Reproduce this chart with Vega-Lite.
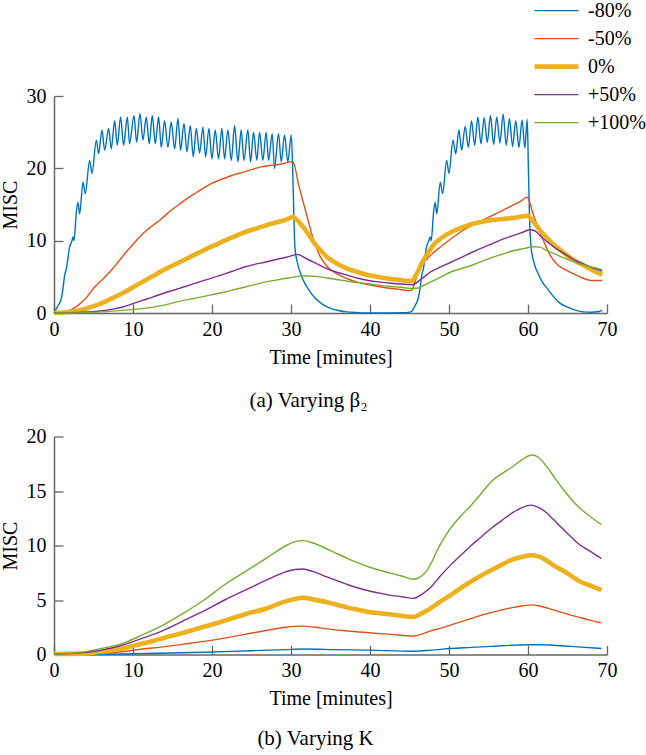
{
  "$schema": "https://vega.github.io/schema/vega-lite/v6.json",
  "background": "white",
  "padding": {"left": 0, "top": -3, "right": 0, "bottom": 0},
  "spacing": 15.5,
  "config": {
    "font": "Liberation Serif",
    "view": {"stroke": null},
    "axis": {
      "grid": false,
      "domainColor": "#666666",
      "domainWidth": 1.5,
      "tickColor": "#666666",
      "tickWidth": 1.3,
      "tickSize": -9,
      "labelFont": "Liberation Serif",
      "labelFontSize": 20,
      "labelColor": "#000000",
      "titleFont": "Liberation Serif",
      "titleFontSize": 20,
      "titleFontWeight": "normal",
      "titleColor": "#000000",
      "labelFlush": false,
      "labelOverlap": false
    },
    "axisX": {"labelPadding": 15, "titlePadding": 8},
    "axisY": {"labelPadding": 17, "titlePadding": 6},
    "title": {
      "font": "Liberation Serif",
      "fontSize": 21,
      "fontWeight": "normal",
      "color": "#000000",
      "orient": "bottom"
    }
  },
  "resolve": {
    "scale": {"color": "independent", "strokeWidth": "independent"},
    "legend": {"color": "independent", "strokeWidth": "independent"}
  },
  "datasets": {
    "a": [
      {"s": "-80%", "t": 0, "v": 0}, {"s": "-80%", "t": 0.5, "v": 1.0}, {"s": "-80%", "t": 0.93, "v": 2.0}, {"s": "-80%", "t": 1.15, "v": 3.5}, {"s": "-80%", "t": 1.35, "v": 5.2}, {"s": "-80%", "t": 1.56, "v": 6.1}, {"s": "-80%", "t": 1.98, "v": 9.1}, {"s": "-80%", "t": 2.28, "v": 10.0}, {"s": "-80%", "t": 2.4, "v": 10.5}, {"s": "-80%", "t": 2.53, "v": 10.0}, {"s": "-80%", "t": 2.83, "v": 14.0}, {"s": "-80%", "t": 3.04, "v": 15.3}, {"s": "-80%", "t": 3.25, "v": 13.7}, {"s": "-80%", "t": 3.67, "v": 18.1}, {"s": "-80%", "t": 3.96, "v": 16.5}, {"s": "-80%", "t": 4.51, "v": 21.1}, {"s": "-80%", "t": 4.81, "v": 19.3}, {"s": "-80%", "t": 5.36, "v": 23.9}, {"s": "-80%", "t": 5.65, "v": 22.0}, {"s": "-80%", "t": 6.07, "v": 25.3}, {"s": "-80%", "t": 6.41, "v": 22.5}, {"s": "-80%", "t": 6.92, "v": 25.5}, {"s": "-80%", "t": 7.25, "v": 22.7}, {"s": "-80%", "t": 7.68, "v": 26.6}, {"s": "-80%", "t": 8.01, "v": 23.2}, {"s": "-80%", "t": 8.43, "v": 27.1}, {"s": "-80%", "t": 8.81, "v": 23.2}, {"s": "-80%", "t": 9.28, "v": 27.1}, {"s": "-80%", "t": 9.57, "v": 23.4}, {"s": "-80%", "t": 10.12, "v": 27.3}, {"s": "-80%", "t": 10.46, "v": 23.6}, {"s": "-80%", "t": 10.88, "v": 27.6}, {"s": "-80%", "t": 11.26, "v": 23.9}, {"s": "-80%", "t": 11.68, "v": 27.1}, {"s": "-80%", "t": 12.06, "v": 23.4}, {"s": "-80%", "t": 12.44, "v": 27.3}, {"s": "-80%", "t": 12.82, "v": 23.4}, {"s": "-80%", "t": 13.24, "v": 27.1}, {"s": "-80%", "t": 13.58, "v": 22.9}, {"s": "-80%", "t": 14.0, "v": 26.6}, {"s": "-80%", "t": 14.42, "v": 22.9}, {"s": "-80%", "t": 14.84, "v": 26.4}, {"s": "-80%", "t": 15.27, "v": 22.7}, {"s": "-80%", "t": 15.69, "v": 26.9}, {"s": "-80%", "t": 16.03, "v": 22.5}, {"s": "-80%", "t": 16.45, "v": 26.2}, {"s": "-80%", "t": 16.83, "v": 22.3}, {"s": "-80%", "t": 17.25, "v": 25.9}, {"s": "-80%", "t": 17.63, "v": 21.6}, {"s": "-80%", "t": 18.01, "v": 25.5}, {"s": "-80%", "t": 18.43, "v": 22.1}, {"s": "-80%", "t": 18.85, "v": 25.7}, {"s": "-80%", "t": 19.19, "v": 21.6}, {"s": "-80%", "t": 19.61, "v": 25.5}, {"s": "-80%", "t": 19.99, "v": 21.3}, {"s": "-80%", "t": 20.41, "v": 25.3}, {"s": "-80%", "t": 20.83, "v": 21.3}, {"s": "-80%", "t": 21.25, "v": 25.5}, {"s": "-80%", "t": 21.59, "v": 21.3}, {"s": "-80%", "t": 22.01, "v": 25.3}, {"s": "-80%", "t": 22.44, "v": 21.1}, {"s": "-80%", "t": 22.86, "v": 25.9}, {"s": "-80%", "t": 23.28, "v": 20.9}, {"s": "-80%", "t": 23.7, "v": 25.3}, {"s": "-80%", "t": 24.04, "v": 21.1}, {"s": "-80%", "t": 24.54, "v": 25.3}, {"s": "-80%", "t": 24.88, "v": 20.9}, {"s": "-80%", "t": 25.26, "v": 25.0}, {"s": "-80%", "t": 25.68, "v": 21.1}, {"s": "-80%", "t": 26.02, "v": 25.0}, {"s": "-80%", "t": 26.44, "v": 21.1}, {"s": "-80%", "t": 26.86, "v": 25.0}, {"s": "-80%", "t": 27.16, "v": 21.1}, {"s": "-80%", "t": 27.62, "v": 24.8}, {"s": "-80%", "t": 27.92, "v": 20.0}, {"s": "-80%", "t": 28.42, "v": 24.8}, {"s": "-80%", "t": 28.76, "v": 20.9}, {"s": "-80%", "t": 29.18, "v": 24.6}, {"s": "-80%", "t": 29.6, "v": 20.9}, {"s": "-80%", "t": 30.03, "v": 24.6}, {"s": "-80%", "t": 30.2, "v": 20.5}, {"s": "-80%", "t": 30.35, "v": 14.0}, {"s": "-80%", "t": 30.5, "v": 9.0}, {"s": "-80%", "t": 30.8, "v": 7.0}, {"s": "-80%", "t": 31.2, "v": 5.5}, {"s": "-80%", "t": 31.7, "v": 4.2}, {"s": "-80%", "t": 32.2, "v": 3.3}, {"s": "-80%", "t": 33.0, "v": 2.1}, {"s": "-80%", "t": 34.0, "v": 1.2}, {"s": "-80%", "t": 35.0, "v": 0.65}, {"s": "-80%", "t": 36.0, "v": 0.35}, {"s": "-80%", "t": 37.0, "v": 0.15}, {"s": "-80%", "t": 38.5, "v": 0.05}, {"s": "-80%", "t": 40.0, "v": 0.0}, {"s": "-80%", "t": 44.5, "v": 0.05}, {"s": "-80%", "t": 45.2, "v": 0.15}, {"s": "-80%", "t": 45.5, "v": 0.6}, {"s": "-80%", "t": 45.8, "v": 1.2}, {"s": "-80%", "t": 46.1, "v": 2.0}, {"s": "-80%", "t": 46.35, "v": 3.5}, {"s": "-80%", "t": 46.55, "v": 5.2}, {"s": "-80%", "t": 46.75, "v": 6.1}, {"s": "-80%", "t": 47.15, "v": 9.1}, {"s": "-80%", "t": 47.45, "v": 10.0}, {"s": "-80%", "t": 47.6, "v": 10.5}, {"s": "-80%", "t": 47.75, "v": 10.0}, {"s": "-80%", "t": 48.05, "v": 14.0}, {"s": "-80%", "t": 48.25, "v": 15.3}, {"s": "-80%", "t": 48.45, "v": 13.7}, {"s": "-80%", "t": 48.9, "v": 18.1}, {"s": "-80%", "t": 49.2, "v": 16.5}, {"s": "-80%", "t": 49.7, "v": 21.1}, {"s": "-80%", "t": 50.0, "v": 19.3}, {"s": "-80%", "t": 50.5, "v": 23.9}, {"s": "-80%", "t": 50.85, "v": 22.0}, {"s": "-80%", "t": 51.25, "v": 25.3}, {"s": "-80%", "t": 51.6, "v": 22.5}, {"s": "-80%", "t": 52.05, "v": 25.8}, {"s": "-80%", "t": 52.45, "v": 22.9}, {"s": "-80%", "t": 52.85, "v": 26.6}, {"s": "-80%", "t": 53.25, "v": 23.2}, {"s": "-80%", "t": 53.65, "v": 27.1}, {"s": "-80%", "t": 54.05, "v": 23.4}, {"s": "-80%", "t": 54.45, "v": 27.0}, {"s": "-80%", "t": 54.85, "v": 23.6}, {"s": "-80%", "t": 55.25, "v": 27.3}, {"s": "-80%", "t": 55.65, "v": 23.3}, {"s": "-80%", "t": 56.05, "v": 27.1}, {"s": "-80%", "t": 56.45, "v": 23.5}, {"s": "-80%", "t": 56.85, "v": 27.5}, {"s": "-80%", "t": 57.25, "v": 23.2}, {"s": "-80%", "t": 57.65, "v": 26.9}, {"s": "-80%", "t": 58.05, "v": 23.0}, {"s": "-80%", "t": 58.45, "v": 26.6}, {"s": "-80%", "t": 58.85, "v": 22.9}, {"s": "-80%", "t": 59.25, "v": 26.7}, {"s": "-80%", "t": 59.6, "v": 22.8}, {"s": "-80%", "t": 59.9, "v": 26.8}, {"s": "-80%", "t": 60.05, "v": 20.0}, {"s": "-80%", "t": 60.2, "v": 13.0}, {"s": "-80%", "t": 60.4, "v": 9.0}, {"s": "-80%", "t": 60.8, "v": 6.8}, {"s": "-80%", "t": 61.3, "v": 5.4}, {"s": "-80%", "t": 61.8, "v": 4.3}, {"s": "-80%", "t": 62.5, "v": 3.3}, {"s": "-80%", "t": 63.2, "v": 2.3}, {"s": "-80%", "t": 64.0, "v": 1.4}, {"s": "-80%", "t": 65.0, "v": 0.8}, {"s": "-80%", "t": 66.0, "v": 0.4}, {"s": "-80%", "t": 67.0, "v": 0.15}, {"s": "-80%", "t": 68.0, "v": 0.1}, {"s": "-80%", "t": 69.0, "v": 0.2}, {"s": "-80%", "t": 69.4, "v": 0.35},

      {"s": "-50%", "t": 0, "v": 0}, {"s": "-50%", "t": 1.35, "v": 0.15}, {"s": "-50%", "t": 3.04, "v": 1.06}, {"s": "-50%", "t": 4.0, "v": 2.0}, {"s": "-50%", "t": 5.15, "v": 3.6}, {"s": "-50%", "t": 6.2, "v": 4.7}, {"s": "-50%", "t": 7.25, "v": 5.9}, {"s": "-50%", "t": 8.3, "v": 7.3}, {"s": "-50%", "t": 9.36, "v": 8.7}, {"s": "-50%", "t": 10.4, "v": 10.0}, {"s": "-50%", "t": 11.47, "v": 11.2}, {"s": "-50%", "t": 12.5, "v": 12.1}, {"s": "-50%", "t": 13.58, "v": 13.0}, {"s": "-50%", "t": 14.6, "v": 14.0}, {"s": "-50%", "t": 15.69, "v": 14.9}, {"s": "-50%", "t": 16.7, "v": 15.7}, {"s": "-50%", "t": 17.8, "v": 16.5}, {"s": "-50%", "t": 18.8, "v": 17.2}, {"s": "-50%", "t": 19.9, "v": 17.9}, {"s": "-50%", "t": 21.0, "v": 18.4}, {"s": "-50%", "t": 22.0, "v": 18.8}, {"s": "-50%", "t": 23.0, "v": 19.2}, {"s": "-50%", "t": 24.1, "v": 19.5}, {"s": "-50%", "t": 25.2, "v": 19.9}, {"s": "-50%", "t": 26.2, "v": 20.2}, {"s": "-50%", "t": 27.3, "v": 20.4}, {"s": "-50%", "t": 28.3, "v": 20.5}, {"s": "-50%", "t": 29.2, "v": 20.7}, {"s": "-50%", "t": 30.1, "v": 20.9}, {"s": "-50%", "t": 30.3, "v": 20.8}, {"s": "-50%", "t": 31.0, "v": 17.6}, {"s": "-50%", "t": 32.0, "v": 13.5}, {"s": "-50%", "t": 32.8, "v": 10.3}, {"s": "-50%", "t": 33.6, "v": 8.0}, {"s": "-50%", "t": 34.6, "v": 6.4}, {"s": "-50%", "t": 35.5, "v": 5.6}, {"s": "-50%", "t": 36.2, "v": 5.2}, {"s": "-50%", "t": 37.2, "v": 4.7}, {"s": "-50%", "t": 38.3, "v": 4.3}, {"s": "-50%", "t": 39.5, "v": 3.95}, {"s": "-50%", "t": 40.4, "v": 3.8}, {"s": "-50%", "t": 42.0, "v": 3.5}, {"s": "-50%", "t": 43.5, "v": 3.3}, {"s": "-50%", "t": 45.1, "v": 3.1}, {"s": "-50%", "t": 45.3, "v": 3.2}, {"s": "-50%", "t": 46.1, "v": 5.7}, {"s": "-50%", "t": 47.7, "v": 8.0}, {"s": "-50%", "t": 49.0, "v": 9.2}, {"s": "-50%", "t": 50.3, "v": 10.3}, {"s": "-50%", "t": 51.6, "v": 11.3}, {"s": "-50%", "t": 52.9, "v": 12.1}, {"s": "-50%", "t": 54.2, "v": 12.8}, {"s": "-50%", "t": 55.5, "v": 13.5}, {"s": "-50%", "t": 56.8, "v": 14.2}, {"s": "-50%", "t": 58.1, "v": 14.9}, {"s": "-50%", "t": 59.0, "v": 15.4}, {"s": "-50%", "t": 59.9, "v": 16.0}, {"s": "-50%", "t": 60.7, "v": 13.5}, {"s": "-50%", "t": 61.7, "v": 10.7}, {"s": "-50%", "t": 62.8, "v": 8.0}, {"s": "-50%", "t": 63.8, "v": 6.6}, {"s": "-50%", "t": 64.9, "v": 5.9}, {"s": "-50%", "t": 66.0, "v": 5.3}, {"s": "-50%", "t": 67.0, "v": 4.8}, {"s": "-50%", "t": 68.0, "v": 4.5}, {"s": "-50%", "t": 69.4, "v": 4.5},

      {"s": "0%", "t": 0, "v": 0}, {"s": "0%", "t": 2.0, "v": 0.15}, {"s": "0%", "t": 3.3, "v": 0.37}, {"s": "0%", "t": 4.6, "v": 0.8}, {"s": "0%", "t": 5.9, "v": 1.3}, {"s": "0%", "t": 7.2, "v": 1.95}, {"s": "0%", "t": 8.6, "v": 2.7}, {"s": "0%", "t": 9.9, "v": 3.5}, {"s": "0%", "t": 11.2, "v": 4.3}, {"s": "0%", "t": 12.5, "v": 5.1}, {"s": "0%", "t": 13.8, "v": 5.9}, {"s": "0%", "t": 15.1, "v": 6.6}, {"s": "0%", "t": 16.4, "v": 7.3}, {"s": "0%", "t": 17.7, "v": 8.0}, {"s": "0%", "t": 19.0, "v": 8.7}, {"s": "0%", "t": 20.3, "v": 9.35}, {"s": "0%", "t": 21.6, "v": 10.0}, {"s": "0%", "t": 22.9, "v": 10.6}, {"s": "0%", "t": 24.2, "v": 11.2}, {"s": "0%", "t": 25.5, "v": 11.65}, {"s": "0%", "t": 26.8, "v": 12.1}, {"s": "0%", "t": 28.1, "v": 12.5}, {"s": "0%", "t": 29.4, "v": 12.9}, {"s": "0%", "t": 30.2, "v": 13.25}, {"s": "0%", "t": 31.0, "v": 12.6}, {"s": "0%", "t": 32.0, "v": 11.2}, {"s": "0%", "t": 33.0, "v": 9.6}, {"s": "0%", "t": 33.8, "v": 8.6}, {"s": "0%", "t": 34.6, "v": 7.7}, {"s": "0%", "t": 35.4, "v": 7.1}, {"s": "0%", "t": 36.2, "v": 6.6}, {"s": "0%", "t": 37.2, "v": 6.1}, {"s": "0%", "t": 38.3, "v": 5.7}, {"s": "0%", "t": 39.6, "v": 5.3}, {"s": "0%", "t": 40.9, "v": 5.0}, {"s": "0%", "t": 42.0, "v": 4.8}, {"s": "0%", "t": 43.0, "v": 4.65}, {"s": "0%", "t": 44.2, "v": 4.5}, {"s": "0%", "t": 45.2, "v": 4.4}, {"s": "0%", "t": 46.0, "v": 5.6}, {"s": "0%", "t": 46.6, "v": 7.0}, {"s": "0%", "t": 47.4, "v": 8.4}, {"s": "0%", "t": 48.2, "v": 9.6}, {"s": "0%", "t": 49.2, "v": 10.5}, {"s": "0%", "t": 50.3, "v": 11.2}, {"s": "0%", "t": 51.6, "v": 11.8}, {"s": "0%", "t": 52.9, "v": 12.3}, {"s": "0%", "t": 54.2, "v": 12.6}, {"s": "0%", "t": 55.5, "v": 12.85}, {"s": "0%", "t": 56.8, "v": 13.0}, {"s": "0%", "t": 58.1, "v": 13.15}, {"s": "0%", "t": 59.0, "v": 13.3}, {"s": "0%", "t": 59.9, "v": 13.45}, {"s": "0%", "t": 60.7, "v": 12.6}, {"s": "0%", "t": 61.7, "v": 11.2}, {"s": "0%", "t": 62.5, "v": 10.3}, {"s": "0%", "t": 63.3, "v": 9.4}, {"s": "0%", "t": 64.1, "v": 8.7}, {"s": "0%", "t": 64.9, "v": 8.0}, {"s": "0%", "t": 66.0, "v": 7.2}, {"s": "0%", "t": 67.0, "v": 6.6}, {"s": "0%", "t": 68.2, "v": 5.9}, {"s": "0%", "t": 69.4, "v": 5.3},

      {"s": "+50%", "t": 0, "v": 0}, {"s": "+50%", "t": 3.0, "v": 0.08}, {"s": "+50%", "t": 5.9, "v": 0.28}, {"s": "+50%", "t": 7.2, "v": 0.5}, {"s": "+50%", "t": 8.6, "v": 0.8}, {"s": "+50%", "t": 9.9, "v": 1.25}, {"s": "+50%", "t": 11.2, "v": 1.75}, {"s": "+50%", "t": 12.5, "v": 2.2}, {"s": "+50%", "t": 13.8, "v": 2.7}, {"s": "+50%", "t": 15.1, "v": 3.15}, {"s": "+50%", "t": 16.4, "v": 3.6}, {"s": "+50%", "t": 17.7, "v": 4.05}, {"s": "+50%", "t": 19.0, "v": 4.5}, {"s": "+50%", "t": 20.3, "v": 4.95}, {"s": "+50%", "t": 21.6, "v": 5.4}, {"s": "+50%", "t": 22.9, "v": 5.9}, {"s": "+50%", "t": 24.2, "v": 6.4}, {"s": "+50%", "t": 25.5, "v": 6.75}, {"s": "+50%", "t": 26.8, "v": 7.05}, {"s": "+50%", "t": 28.1, "v": 7.4}, {"s": "+50%", "t": 29.4, "v": 7.7}, {"s": "+50%", "t": 30.8, "v": 8.1}, {"s": "+50%", "t": 32.0, "v": 7.5}, {"s": "+50%", "t": 33.3, "v": 6.8}, {"s": "+50%", "t": 34.6, "v": 6.1}, {"s": "+50%", "t": 35.9, "v": 5.6}, {"s": "+50%", "t": 37.2, "v": 5.2}, {"s": "+50%", "t": 38.5, "v": 4.8}, {"s": "+50%", "t": 39.8, "v": 4.5}, {"s": "+50%", "t": 41.1, "v": 4.3}, {"s": "+50%", "t": 42.4, "v": 4.15}, {"s": "+50%", "t": 43.9, "v": 4.0}, {"s": "+50%", "t": 45.3, "v": 3.9}, {"s": "+50%", "t": 46.5, "v": 4.7}, {"s": "+50%", "t": 47.7, "v": 5.7}, {"s": "+50%", "t": 49.0, "v": 6.4}, {"s": "+50%", "t": 50.3, "v": 7.05}, {"s": "+50%", "t": 51.6, "v": 7.7}, {"s": "+50%", "t": 52.9, "v": 8.4}, {"s": "+50%", "t": 54.2, "v": 9.0}, {"s": "+50%", "t": 55.5, "v": 9.6}, {"s": "+50%", "t": 56.8, "v": 10.2}, {"s": "+50%", "t": 58.1, "v": 10.7}, {"s": "+50%", "t": 59.2, "v": 11.1}, {"s": "+50%", "t": 60.2, "v": 11.5}, {"s": "+50%", "t": 60.8, "v": 11.4}, {"s": "+50%", "t": 61.7, "v": 10.5}, {"s": "+50%", "t": 62.5, "v": 9.8}, {"s": "+50%", "t": 63.3, "v": 9.1}, {"s": "+50%", "t": 64.6, "v": 8.2}, {"s": "+50%", "t": 65.9, "v": 7.3}, {"s": "+50%", "t": 67.2, "v": 6.7}, {"s": "+50%", "t": 68.3, "v": 6.2}, {"s": "+50%", "t": 69.4, "v": 5.8},

      {"s": "+100%", "t": 0, "v": 0}, {"s": "+100%", "t": 4.0, "v": 0.05}, {"s": "+100%", "t": 6.0, "v": 0.15}, {"s": "+100%", "t": 8.6, "v": 0.37}, {"s": "+100%", "t": 11.2, "v": 0.6}, {"s": "+100%", "t": 13.8, "v": 1.06}, {"s": "+100%", "t": 15.1, "v": 1.4}, {"s": "+100%", "t": 16.4, "v": 1.75}, {"s": "+100%", "t": 17.7, "v": 2.0}, {"s": "+100%", "t": 19.0, "v": 2.3}, {"s": "+100%", "t": 20.3, "v": 2.6}, {"s": "+100%", "t": 21.6, "v": 2.9}, {"s": "+100%", "t": 22.9, "v": 3.25}, {"s": "+100%", "t": 24.2, "v": 3.6}, {"s": "+100%", "t": 25.5, "v": 3.95}, {"s": "+100%", "t": 26.8, "v": 4.3}, {"s": "+100%", "t": 28.1, "v": 4.55}, {"s": "+100%", "t": 29.4, "v": 4.8}, {"s": "+100%", "t": 30.5, "v": 5.0}, {"s": "+100%", "t": 31.5, "v": 5.15}, {"s": "+100%", "t": 32.5, "v": 5.1}, {"s": "+100%", "t": 33.6, "v": 5.0}, {"s": "+100%", "t": 35.4, "v": 4.7}, {"s": "+100%", "t": 37.2, "v": 4.4}, {"s": "+100%", "t": 38.5, "v": 4.2}, {"s": "+100%", "t": 39.8, "v": 4.05}, {"s": "+100%", "t": 41.1, "v": 3.85}, {"s": "+100%", "t": 42.4, "v": 3.7}, {"s": "+100%", "t": 43.9, "v": 3.55}, {"s": "+100%", "t": 45.3, "v": 3.4}, {"s": "+100%", "t": 46.1, "v": 3.45}, {"s": "+100%", "t": 46.9, "v": 3.9}, {"s": "+100%", "t": 47.7, "v": 4.3}, {"s": "+100%", "t": 49.0, "v": 5.0}, {"s": "+100%", "t": 50.3, "v": 5.7}, {"s": "+100%", "t": 51.6, "v": 6.15}, {"s": "+100%", "t": 52.9, "v": 6.6}, {"s": "+100%", "t": 54.2, "v": 7.15}, {"s": "+100%", "t": 55.5, "v": 7.7}, {"s": "+100%", "t": 56.8, "v": 8.15}, {"s": "+100%", "t": 58.1, "v": 8.6}, {"s": "+100%", "t": 59.4, "v": 8.9}, {"s": "+100%", "t": 60.7, "v": 9.15}, {"s": "+100%", "t": 61.5, "v": 9.1}, {"s": "+100%", "t": 62.4, "v": 8.6}, {"s": "+100%", "t": 63.3, "v": 8.2}, {"s": "+100%", "t": 64.6, "v": 7.6}, {"s": "+100%", "t": 65.9, "v": 7.05}, {"s": "+100%", "t": 67.2, "v": 6.6}, {"s": "+100%", "t": 68.3, "v": 6.3}, {"s": "+100%", "t": 69.4, "v": 6.0}
    ],
    "b": [
      {"s": "-80%", "t": 0, "v": 0.0}, {"s": "-80%", "t": 8.6, "v": 0.05}, {"s": "-80%", "t": 19.0, "v": 0.2}, {"s": "-80%", "t": 25.0, "v": 0.35}, {"s": "-80%", "t": 29.4, "v": 0.45}, {"s": "-80%", "t": 31.5, "v": 0.5}, {"s": "-80%", "t": 35.5, "v": 0.45}, {"s": "-80%", "t": 39.8, "v": 0.4}, {"s": "-80%", "t": 45.5, "v": 0.3}, {"s": "-80%", "t": 47.8, "v": 0.4}, {"s": "-80%", "t": 50.2, "v": 0.55}, {"s": "-80%", "t": 52.8, "v": 0.65}, {"s": "-80%", "t": 55.4, "v": 0.75}, {"s": "-80%", "t": 58.0, "v": 0.85}, {"s": "-80%", "t": 60.1, "v": 0.9}, {"s": "-80%", "t": 61.5, "v": 0.9}, {"s": "-80%", "t": 63.2, "v": 0.85}, {"s": "-80%", "t": 66.3, "v": 0.7}, {"s": "-80%", "t": 69.3, "v": 0.55},

      {"s": "-50%", "t": 0, "v": 0.03}, {"s": "-50%", "t": 5.0, "v": 0.08}, {"s": "-50%", "t": 8.6, "v": 0.25}, {"s": "-50%", "t": 11.2, "v": 0.5}, {"s": "-50%", "t": 13.8, "v": 0.7}, {"s": "-50%", "t": 16.4, "v": 0.95}, {"s": "-50%", "t": 19.0, "v": 1.2}, {"s": "-50%", "t": 21.6, "v": 1.5}, {"s": "-50%", "t": 24.2, "v": 1.85}, {"s": "-50%", "t": 26.8, "v": 2.2}, {"s": "-50%", "t": 29.4, "v": 2.5}, {"s": "-50%", "t": 31.5, "v": 2.6}, {"s": "-50%", "t": 33.0, "v": 2.5}, {"s": "-50%", "t": 34.6, "v": 2.35}, {"s": "-50%", "t": 37.2, "v": 2.15}, {"s": "-50%", "t": 39.8, "v": 2.0}, {"s": "-50%", "t": 42.6, "v": 1.85}, {"s": "-50%", "t": 45.5, "v": 1.7}, {"s": "-50%", "t": 46.5, "v": 1.85}, {"s": "-50%", "t": 47.6, "v": 2.15}, {"s": "-50%", "t": 48.9, "v": 2.4}, {"s": "-50%", "t": 50.2, "v": 2.7}, {"s": "-50%", "t": 51.5, "v": 3.0}, {"s": "-50%", "t": 52.8, "v": 3.3}, {"s": "-50%", "t": 54.1, "v": 3.6}, {"s": "-50%", "t": 55.4, "v": 3.85}, {"s": "-50%", "t": 56.7, "v": 4.1}, {"s": "-50%", "t": 58.0, "v": 4.3}, {"s": "-50%", "t": 59.2, "v": 4.45}, {"s": "-50%", "t": 60.4, "v": 4.55}, {"s": "-50%", "t": 61.5, "v": 4.45}, {"s": "-50%", "t": 63.2, "v": 4.1}, {"s": "-50%", "t": 64.8, "v": 3.75}, {"s": "-50%", "t": 66.3, "v": 3.45}, {"s": "-50%", "t": 67.8, "v": 3.15}, {"s": "-50%", "t": 69.3, "v": 2.9},

      {"s": "0%", "t": 0, "v": 0.05}, {"s": "0%", "t": 3.4, "v": 0.08}, {"s": "0%", "t": 6.0, "v": 0.25}, {"s": "0%", "t": 8.6, "v": 0.55}, {"s": "0%", "t": 11.2, "v": 1.0}, {"s": "0%", "t": 13.8, "v": 1.5}, {"s": "0%", "t": 16.4, "v": 2.0}, {"s": "0%", "t": 19.0, "v": 2.55}, {"s": "0%", "t": 21.6, "v": 3.1}, {"s": "0%", "t": 24.2, "v": 3.7}, {"s": "0%", "t": 26.8, "v": 4.2}, {"s": "0%", "t": 29.4, "v": 4.9}, {"s": "0%", "t": 30.5, "v": 5.1}, {"s": "0%", "t": 31.5, "v": 5.2}, {"s": "0%", "t": 32.8, "v": 5.05}, {"s": "0%", "t": 34.6, "v": 4.8}, {"s": "0%", "t": 35.9, "v": 4.55}, {"s": "0%", "t": 37.2, "v": 4.3}, {"s": "0%", "t": 38.5, "v": 4.1}, {"s": "0%", "t": 39.8, "v": 3.9}, {"s": "0%", "t": 41.1, "v": 3.8}, {"s": "0%", "t": 42.4, "v": 3.7}, {"s": "0%", "t": 44.0, "v": 3.55}, {"s": "0%", "t": 45.5, "v": 3.45}, {"s": "0%", "t": 46.5, "v": 3.75}, {"s": "0%", "t": 47.6, "v": 4.2}, {"s": "0%", "t": 48.9, "v": 4.85}, {"s": "0%", "t": 50.2, "v": 5.45}, {"s": "0%", "t": 51.5, "v": 6.1}, {"s": "0%", "t": 52.8, "v": 6.7}, {"s": "0%", "t": 54.1, "v": 7.25}, {"s": "0%", "t": 55.4, "v": 7.75}, {"s": "0%", "t": 56.7, "v": 8.25}, {"s": "0%", "t": 58.0, "v": 8.7}, {"s": "0%", "t": 59.2, "v": 8.95}, {"s": "0%", "t": 60.5, "v": 9.1}, {"s": "0%", "t": 61.3, "v": 9.0}, {"s": "0%", "t": 62.2, "v": 8.7}, {"s": "0%", "t": 63.2, "v": 8.2}, {"s": "0%", "t": 64.3, "v": 7.75}, {"s": "0%", "t": 65.3, "v": 7.3}, {"s": "0%", "t": 66.3, "v": 6.8}, {"s": "0%", "t": 67.8, "v": 6.35}, {"s": "0%", "t": 69.3, "v": 5.9},

      {"s": "+50%", "t": 0, "v": 0.05}, {"s": "+50%", "t": 3.4, "v": 0.15}, {"s": "+50%", "t": 6.0, "v": 0.4}, {"s": "+50%", "t": 8.6, "v": 0.85}, {"s": "+50%", "t": 11.2, "v": 1.5}, {"s": "+50%", "t": 13.8, "v": 2.2}, {"s": "+50%", "t": 16.4, "v": 3.1}, {"s": "+50%", "t": 19.0, "v": 4.0}, {"s": "+50%", "t": 21.6, "v": 5.0}, {"s": "+50%", "t": 24.2, "v": 5.9}, {"s": "+50%", "t": 26.8, "v": 6.8}, {"s": "+50%", "t": 29.4, "v": 7.6}, {"s": "+50%", "t": 30.5, "v": 7.8}, {"s": "+50%", "t": 31.5, "v": 7.85}, {"s": "+50%", "t": 32.8, "v": 7.6}, {"s": "+50%", "t": 34.6, "v": 7.1}, {"s": "+50%", "t": 35.9, "v": 6.75}, {"s": "+50%", "t": 37.2, "v": 6.4}, {"s": "+50%", "t": 38.5, "v": 6.1}, {"s": "+50%", "t": 39.8, "v": 5.85}, {"s": "+50%", "t": 41.1, "v": 5.65}, {"s": "+50%", "t": 42.4, "v": 5.45}, {"s": "+50%", "t": 44.0, "v": 5.3}, {"s": "+50%", "t": 45.5, "v": 5.15}, {"s": "+50%", "t": 46.5, "v": 5.5}, {"s": "+50%", "t": 47.6, "v": 6.1}, {"s": "+50%", "t": 48.9, "v": 7.2}, {"s": "+50%", "t": 50.2, "v": 8.2}, {"s": "+50%", "t": 51.5, "v": 9.1}, {"s": "+50%", "t": 52.8, "v": 10.0}, {"s": "+50%", "t": 54.1, "v": 10.8}, {"s": "+50%", "t": 55.4, "v": 11.6}, {"s": "+50%", "t": 56.7, "v": 12.3}, {"s": "+50%", "t": 58.0, "v": 13.0}, {"s": "+50%", "t": 59.2, "v": 13.45}, {"s": "+50%", "t": 60.4, "v": 13.7}, {"s": "+50%", "t": 61.3, "v": 13.5}, {"s": "+50%", "t": 62.2, "v": 13.1}, {"s": "+50%", "t": 63.2, "v": 12.4}, {"s": "+50%", "t": 64.3, "v": 11.6}, {"s": "+50%", "t": 65.3, "v": 10.9}, {"s": "+50%", "t": 66.3, "v": 10.2}, {"s": "+50%", "t": 67.8, "v": 9.5}, {"s": "+50%", "t": 69.3, "v": 8.8},

      {"s": "+100%", "t": 0, "v": 0.05}, {"s": "+100%", "t": 3.4, "v": 0.2}, {"s": "+100%", "t": 6.0, "v": 0.55}, {"s": "+100%", "t": 8.6, "v": 1.0}, {"s": "+100%", "t": 11.2, "v": 1.8}, {"s": "+100%", "t": 13.8, "v": 2.7}, {"s": "+100%", "t": 16.4, "v": 3.8}, {"s": "+100%", "t": 19.0, "v": 5.0}, {"s": "+100%", "t": 21.6, "v": 6.4}, {"s": "+100%", "t": 24.2, "v": 7.6}, {"s": "+100%", "t": 26.8, "v": 8.8}, {"s": "+100%", "t": 29.4, "v": 10.0}, {"s": "+100%", "t": 30.5, "v": 10.35}, {"s": "+100%", "t": 31.5, "v": 10.45}, {"s": "+100%", "t": 32.5, "v": 10.3}, {"s": "+100%", "t": 33.6, "v": 10.0}, {"s": "+100%", "t": 35.4, "v": 9.4}, {"s": "+100%", "t": 37.2, "v": 8.8}, {"s": "+100%", "t": 38.5, "v": 8.4}, {"s": "+100%", "t": 39.8, "v": 8.05}, {"s": "+100%", "t": 41.1, "v": 7.75}, {"s": "+100%", "t": 42.4, "v": 7.5}, {"s": "+100%", "t": 44.0, "v": 7.2}, {"s": "+100%", "t": 45.5, "v": 6.9}, {"s": "+100%", "t": 46.3, "v": 7.1}, {"s": "+100%", "t": 47.1, "v": 7.6}, {"s": "+100%", "t": 47.9, "v": 8.6}, {"s": "+100%", "t": 48.6, "v": 9.7}, {"s": "+100%", "t": 49.4, "v": 10.7}, {"s": "+100%", "t": 50.2, "v": 11.6}, {"s": "+100%", "t": 51.5, "v": 12.7}, {"s": "+100%", "t": 52.8, "v": 13.7}, {"s": "+100%", "t": 54.1, "v": 14.8}, {"s": "+100%", "t": 55.4, "v": 15.9}, {"s": "+100%", "t": 56.7, "v": 16.6}, {"s": "+100%", "t": 58.0, "v": 17.2}, {"s": "+100%", "t": 59.3, "v": 17.9}, {"s": "+100%", "t": 60.5, "v": 18.3}, {"s": "+100%", "t": 61.3, "v": 18.1}, {"s": "+100%", "t": 62.2, "v": 17.4}, {"s": "+100%", "t": 63.2, "v": 16.4}, {"s": "+100%", "t": 64.3, "v": 15.3}, {"s": "+100%", "t": 65.3, "v": 14.4}, {"s": "+100%", "t": 66.3, "v": 13.6}, {"s": "+100%", "t": 67.8, "v": 12.7}, {"s": "+100%", "t": 69.3, "v": 11.9}
    ]
  },
  "vconcat": [
    {
      "data": {"name": "a"},
      "width": 553,
      "height": 217,
      "title": {"text": "(a)  Varying β₂", "offset": 23, "dx": -22},
      "mark": {"type": "line", "interpolate": "monotone"},
      "encoding": {
        "x": {"field": "t", "type": "quantitative", "scale": {"domain": [0, 70], "nice": false}, "axis": {"values": [0, 10, 20, 30, 40, 50, 60, 70], "title": "Time [minutes]"}},
        "y": {"field": "v", "type": "quantitative", "scale": {"domain": [0, 30], "nice": false}, "axis": {"values": [0, 10, 20, 30], "title": "MISC"}},
        "color": {
          "field": "s", "type": "nominal",
          "scale": {"domain": ["-80%", "-50%", "0%", "+50%", "+100%"], "range": ["#0072BD", "#D95319", "#EDB120", "#7E2F8E", "#77AC30"]},
          "legend": {"orient": "none", "legendX": 478, "legendY": -99, "title": null, "symbolType": "stroke", "symbolSize": 1936, "clipHeight": 27.2, "rowPadding": 0, "labelFont": "Liberation Serif", "labelFontSize": 20, "labelColor": "#000000", "labelOffset": 7, "symbolOpacity": 1}
        },
        "strokeWidth": {
          "field": "s", "type": "nominal",
          "scale": {"type": "ordinal", "domain": ["-80%", "-50%", "0%", "+50%", "+100%"], "range": [1.4, 1.4, 4.6, 1.4, 1.4]},
          "legend": {"orient": "none", "legendX": 478, "legendY": -99, "title": null, "symbolType": "stroke", "symbolSize": 1936, "clipHeight": 27.2, "rowPadding": 0, "labelFont": "Liberation Serif", "labelFontSize": 20, "labelColor": "#000000", "labelOffset": 7, "symbolOpacity": 1}
        }
      }
    },
    {
      "data": {"name": "b"},
      "width": 553,
      "height": 218,
      "title": {"text": "(b)  Varying K", "offset": 19.7, "dx": -15},
      "mark": {"type": "line", "interpolate": "monotone"},
      "encoding": {
        "x": {"field": "t", "type": "quantitative", "scale": {"domain": [0, 70], "nice": false}, "axis": {"values": [0, 10, 20, 30, 40, 50, 60, 70], "title": "Time [minutes]"}},
        "y": {"field": "v", "type": "quantitative", "scale": {"domain": [0, 20], "nice": false}, "axis": {"values": [0, 5, 10, 15, 20], "title": "MISC"}},
        "color": {
          "field": "s", "type": "nominal",
          "scale": {"domain": ["-80%", "-50%", "0%", "+50%", "+100%"], "range": ["#0072BD", "#D95319", "#EDB120", "#7E2F8E", "#77AC30"]},
          "legend": null
        },
        "strokeWidth": {
          "field": "s", "type": "nominal",
          "scale": {"type": "ordinal", "domain": ["-80%", "-50%", "0%", "+50%", "+100%"], "range": [1.4, 1.4, 4.6, 1.4, 1.4]},
          "legend": null
        }
      }
    }
  ]
}
